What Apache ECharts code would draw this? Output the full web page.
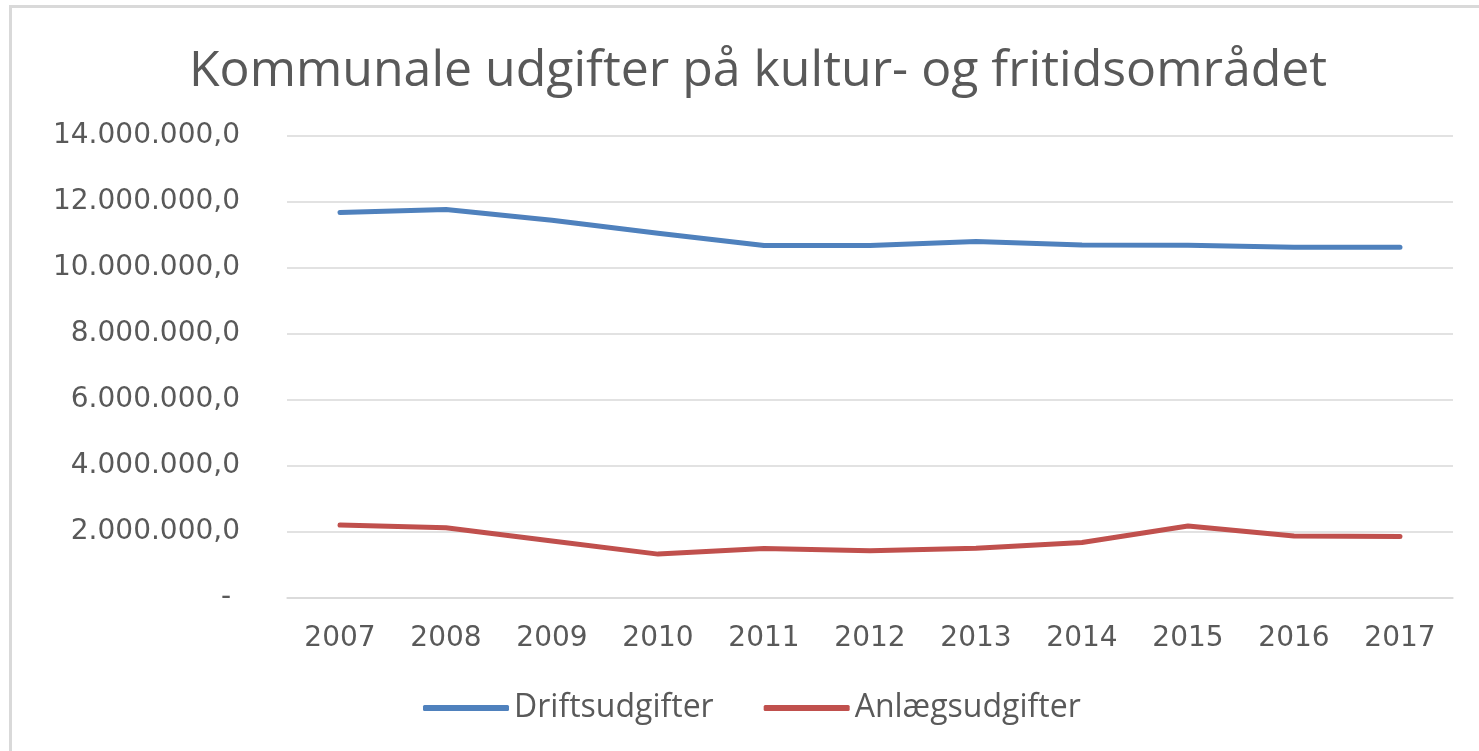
<!DOCTYPE html>
<html>
<head>
<meta charset="utf-8">
<script src="https://cdn.jsdelivr.net/npm/echarts@6/dist/echarts.min.js"></script>
<style>
  html, body { margin: 0; padding: 0; background: #fff; }
  #chart { width: 1479px; height: 751px; }
  /* grå ramme øverst og til venstre, som i det beskårne Excel-udsnit */
  #frame {
    position: absolute; left: 9px; top: 5px; right: 0; bottom: 0;
    border-left: 3px solid #d9d9d9; border-top: 3px solid #d9d9d9;
    pointer-events: none;
  }
</style>
</head>
<body>
<div id="chart"></div>
<div id="frame"></div>
<script>
const years = ['2007', '2008', '2009', '2010', '2011', '2012', '2013', '2014', '2015', '2016', '2017'];
const driftsudgifter = [11680000, 11770000, 11450000, 11050000, 10680000, 10680000, 10800000, 10700000, 10690000, 10630000, 10630000];
const anlaegsudgifter = [2210000, 2130000, 1730000, 1330000, 1500000, 1430000, 1510000, 1680000, 2180000, 1880000, 1860000];
const seriesNames = ['Driftsudgifter', 'Anlægsudgifter'];
const chartTitle = 'Kommunale udgifter på kultur- og fritidsområdet';

const textColor = '#595959';
const gridColor = '#d9d9d9';

// dansk talformat: 14.000.000,0 og "-" for nul
const formatKr = (v) => {
  if (v === 0) return '- ';
  return String(v).replace(/\B(?=(\d{3})+(?!\d))/g, '.') + ',0';
};

const chart = echarts.init(document.getElementById('chart'));

const lineSeries = (name, data, color) => ({
  name,
  type: 'line',
  data,
  showSymbol: false,
  symbol: 'none',
  smooth: false,
  color,
  lineStyle: { width: 5, color, cap: 'round', join: 'round' },
  emphasis: { disabled: true }
});

chart.setOption({
  animation: false,
  backgroundColor: '#fff',
  title: {
    text: chartTitle,
    left: 184,
    top: 42,
    textStyle: {
      fontFamily: 'Open Sans',
      fontSize: 50,
      fontWeight: 'normal',
      color: textColor
    }
  },
  legend: {
    bottom: 22,
    left: 418,
    itemGap: 50,
    itemWidth: 86,
    itemHeight: 6,
    icon: 'roundRect',
    textStyle: { fontFamily: 'Open Sans', fontSize: 32, color: textColor },
    data: seriesNames
  },
  grid: {
    left: 287,
    right: 26,
    top: 136,
    bottom: 153,
    containLabel: false
  },
  xAxis: {
    type: 'category',
    data: years,
    boundaryGap: true,
    axisLine: { show: true, lineStyle: { color: gridColor, width: 1.5 } },
    axisTick: { show: false },
    axisLabel: {
      margin: 27,
      fontFamily: 'DejaVu Sans',
      fontSize: 28,
      color: textColor
    }
  },
  yAxis: {
    type: 'value',
    min: 0,
    max: 14000000,
    interval: 2000000,
    axisLine: { show: false },
    axisTick: { show: false },
    splitLine: { lineStyle: { color: gridColor, width: 1.5 } },
    axisLabel: {
      margin: 47,
      fontFamily: 'DejaVu Sans',
      fontSize: 28,
      color: textColor,
      formatter: formatKr
    }
  },
  series: [
    lineSeries(seriesNames[0], driftsudgifter, '#4F81BD'),
    lineSeries(seriesNames[1], anlaegsudgifter, '#C0504D')
  ]
});
</script>
</body>
</html>
